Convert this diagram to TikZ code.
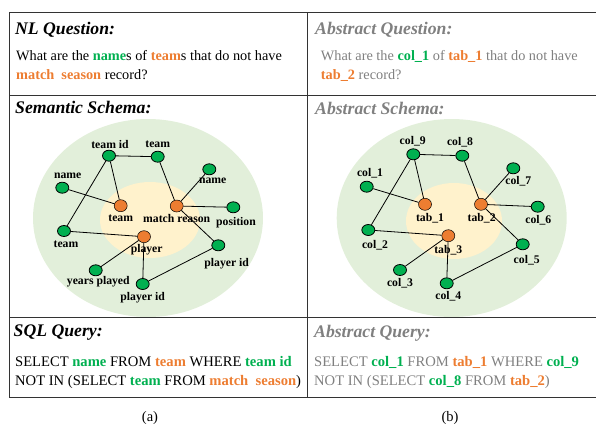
\documentclass[tikz,border=0pt]{standalone}
\usepackage{fontspec}
\setmainfont{Liberation Serif}
\usetikzlibrary{shapes.geometric}
\definecolor{kgreen}{HTML}{00B050}
\definecolor{korange}{HTML}{ED7D31}
\definecolor{outerfill}{HTML}{E2EFDA}
\definecolor{innerfill}{HTML}{FFF2CC}
\definecolor{abgrey}{HTML}{808080}
\definecolor{rulecol}{HTML}{333333}
\newcommand{\gw}[1]{\textbf{\color{kgreen}#1}}
\newcommand{\ow}[1]{\textbf{\color{korange}#1}}
\begin{document}
\begin{tikzpicture}[x=1pt,y=-1pt,
  colnode/.style={ellipse,draw=black,line width=0.8pt,fill=kgreen,minimum width=13pt,minimum height=11pt,inner sep=0pt},
  tabnode/.style={ellipse,draw=black,line width=0.5pt,fill=korange,minimum width=13pt,minimum height=12pt,inner sep=0pt},
  lbl/.style={font=\fontsize{11.7}{12}\selectfont\bfseries,inner sep=0pt},
  edge/.style={draw=black,line width=0.8pt},
  title/.style={font=\fontsize{17.7}{20}\selectfont\bfseries\itshape,anchor=base west,inner sep=0pt},
  body/.style={font=\fontsize{14.3}{19}\selectfont,anchor=base west,inner sep=0pt},
  query/.style={font=\fontsize{14.6}{19}\selectfont,anchor=base west,inner sep=0pt},
  caption/.style={font=\fontsize{14.5}{19}\selectfont,anchor=base,inner sep=0pt},
  rule/.style={draw=rulecol,line width=1pt}]
\useasboundingbox (0,0) rectangle (596,426);

% background schema regions
\fill[outerfill] (148,218) ellipse [x radius=115, y radius=99];
\fill[innerfill] (150,220) ellipse [x radius=50, y radius=38];
\fill[outerfill] (451.7,218) ellipse [x radius=115, y radius=99];
\fill[innerfill] (454,221) ellipse [x radius=48, y radius=38];

% table rules
\draw[rule] (9,12) -- (596,12);
\draw[rule] (9,95) -- (596,95);
\draw[rule] (9,317) -- (596,317);
\draw[rule] (9,397) -- (596,397);
\draw[rule] (9,12) -- (9,397);
\draw[rule] (307.7,12) -- (307.7,397);

% question cells
\node[title] (t1) at (15,34) {NL Question:};
\node[body] (q1) at (16,60) {What are the \gw{name}s of \ow{team}s that do not have};
\node[body] (q2) at (16,79.5) {\ow{match\ \ season} record?};
\node[title,text=abgrey] (t2) at (315,34.5) {Abstract Question:};
\node[body,text=abgrey] (aq1) at (320.7,60) {What are the \gw{col\_1} of \ow{tab\_1} that do not have};
\node[body,text=abgrey] (aq2) at (320.7,79.5) {\ow{tab\_2} record?};

% schema titles
\node[title] (t3) at (15,113.5) {Semantic Schema:};
\node[title,text=abgrey] (t4) at (315,114) {Abstract Schema:};

% semantic schema graph
\node[colnode] (sid) at (109,155.7) {};
\node[colnode] (steam) at (157.7,156.7) {};
\node[colnode] (sname) at (62.3,187.7) {};
\node[colnode] (sname2) at (209.3,169.3) {};
\node[tabnode] (tteam) at (120.7,205.7) {};
\node[tabnode] (tmatch) at (176.7,206) {};
\node[colnode] (spos) at (233.3,207.3) {};
\node[colnode] (steam2) at (64,231) {};
\node[tabnode] (tplayer) at (144,236.7) {};
\node[colnode] (spid) at (218.3,245.3) {};
\node[colnode] (syears) at (95.7,270.3) {};
\node[colnode] (spid2) at (142.7,284) {};

\draw[edge] (sid) -- (steam);
\draw[edge] (sid) -- (tteam);
\draw[edge] (sid) -- (steam2);
\draw[edge] (steam) -- (tmatch);
\draw[edge] (sname) -- (tteam);
\draw[edge] (sname2) -- (tmatch);
\draw[edge] (tmatch) -- (spos);
\draw[edge] (tmatch) -- (spid);
\draw[edge] (steam2) -- (tplayer);
\draw[edge] (tplayer) -- (syears);
\draw[edge] (tplayer) -- (spid2);
\draw[edge] (spid2) -- (spid);

\node[lbl] (lid) at (110,144.3) {team id};
\node[lbl] (lteam) at (157.7,144) {team};
\node[lbl] (lname) at (67.7,175.3) {name};
\node[lbl] (lname2) at (212.7,181) {name};
\node[lbl] (lteamt) at (120.7,218.3) {team};
\node[lbl] (lmatch) at (176.7,218.3) {match reason};
\node[lbl] (lpos) at (236,222.7) {position};
\node[lbl] (lteam2) at (66,244.3) {team};
\node[lbl] (lplayer) at (146.7,249.3) {player};
\node[lbl] (lpid) at (226.7,263.3) {player id};
\node[lbl] (lyears) at (98.3,281.7) {years played};
\node[lbl] (lpid2) at (142.7,297.3) {player id};

% abstract schema graph
\node[colnode] (c9) at (413.3,154.3) {};
\node[colnode] (c8) at (462.3,155.7) {};
\node[colnode] (c1) at (366.7,186.7) {};
\node[colnode] (c7) at (513.3,168.3) {};
\node[tabnode] (b1) at (425,204.3) {};
\node[tabnode] (b2) at (481,204.3) {};
\node[colnode] (c6) at (537.7,206.7) {};
\node[colnode] (c2) at (368.3,230) {};
\node[tabnode] (b3) at (448.3,235.7) {};
\node[colnode] (c5) at (522.7,244.3) {};
\node[colnode] (c3) at (400,270) {};
\node[colnode] (c4) at (446.7,283.3) {};

\draw[edge] (c9) -- (c8);
\draw[edge] (c9) -- (b1);
\draw[edge] (c9) -- (c2);
\draw[edge] (c8) -- (b2);
\draw[edge] (c1) -- (b1);
\draw[edge] (c7) -- (b2);
\draw[edge] (b2) -- (c6);
\draw[edge] (b2) -- (c5);
\draw[edge] (c2) -- (b3);
\draw[edge] (b3) -- (c3);
\draw[edge] (b3) -- (c4);
\draw[edge] (c4) -- (c5);

\node[lbl] (l9) at (412.7,141.7) {col\_9};
\node[lbl] (l8) at (460,142.7) {col\_8};
\node[lbl] (l1) at (370,173.3) {col\_1};
\node[lbl] (l7) at (518.3,181.7) {col\_7};
\node[lbl] (lb1) at (430,218.3) {tab\_1};
\node[lbl] (lb2) at (481.7,218.3) {tab\_2};
\node[lbl] (l6) at (538.3,220) {col\_6};
\node[lbl] (l2) at (375,245) {col\_2};
\node[lbl] (lb3) at (448.3,250) {tab\_3};
\node[lbl] (l5) at (526.7,260.7) {col\_5};
\node[lbl] (l3) at (400,283.3) {col\_3};
\node[lbl] (l4) at (448.3,296) {col\_4};

% query cells
\node[title] (t5) at (13.5,336) {SQL Query:};
\node[query] (s1) at (15,366) {SELECT \gw{name} FROM \ow{team} WHERE \gw{team id}};
\node[query] (s2) at (15,385) {NOT IN (SELECT \gw{team} FROM \ow{match\ \ season})};
\node[title,text=abgrey] (t6) at (314,337) {Abstract Query:};
\node[query,text=abgrey] (as1) at (314,366) {SELECT \gw{col\_1} FROM \ow{tab\_1} WHERE \gw{col\_9}};
\node[query,text=abgrey] (as2) at (314,385) {NOT IN (SELECT \gw{col\_8} FROM \ow{tab\_2})};

% captions
\node[caption] (ca) at (150,421) {(a)};
\node[caption] (cb) at (450,421) {(b)};
\end{tikzpicture}
\end{document}
